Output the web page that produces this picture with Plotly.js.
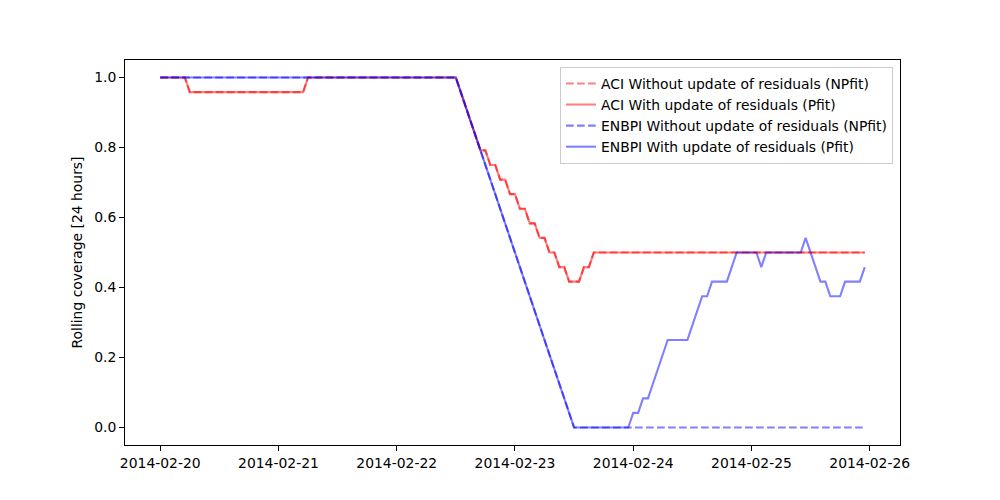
<!DOCTYPE html>
<html>
<head>
<meta charset="utf-8">
<script src="https://cdn.plot.ly/plotly-3.0.1.min.js"></script>
<style>html,body{margin:0;padding:0;background:#fff;}#chart{width:1000px;height:500px;}</style>
</head>
<body>
<div id="chart"></div>
<script>
// Hourly samples starting at this timestamp
const startTime = '2014-02-20T00:00:00Z';
const nHours = 144;

// ACI series (with and without update coincide)
const aciNPfit = [
1,1,1,1,1,1,
0.9583,0.9583,0.9583,0.9583,0.9583,0.9583,0.9583,0.9583,0.9583,0.9583,0.9583,0.9583,
0.9583,0.9583,0.9583,0.9583,0.9583,0.9583,0.9583,0.9583,0.9583,0.9583,0.9583,0.9583,
1,1,1,1,1,1,1,1,1,1,1,1,1,1,1,1,1,1,1,1,1,1,1,1,1,1,1,1,1,1,1,
0.9583,0.9167,0.875,0.8333,0.7917,0.7917,0.75,0.75,0.7083,0.7083,0.6667,0.6667,
0.625,0.625,0.5833,0.5833,0.5417,0.5417,0.5,0.5,0.4583,0.4583,0.4167,0.4167,0.4167,
0.4583,0.4583,
0.5,0.5,0.5,0.5,0.5,0.5,0.5,0.5,0.5,0.5,0.5,0.5,0.5,0.5,0.5,0.5,0.5,0.5,0.5,0.5,
0.5,0.5,0.5,0.5,0.5,0.5,0.5,0.5,0.5,0.5,0.5,0.5,0.5,0.5,0.5,0.5,0.5,0.5,0.5,0.5,
0.5,0.5,0.5,0.5,0.5,0.5,0.5,0.5,0.5,0.5,0.5,0.5,0.5,0.5,0.5,0.5
];
const aciPfit = aciNPfit.slice();

// ENBPI series
const enbpiNPfit = [
1,1,1,1,1,1,1,1,1,1,1,1,1,1,1,1,1,1,1,1,1,1,1,1,1,1,1,1,1,1,
1,1,1,1,1,1,1,1,1,1,1,1,1,1,1,1,1,1,1,1,1,1,1,1,1,1,1,1,1,1,1,
0.9583,0.9167,0.875,0.8333,0.7917,0.75,0.7083,0.6667,0.625,0.5833,0.5417,0.5,
0.4583,0.4167,0.375,0.3333,0.2917,0.25,0.2083,0.1667,0.125,0.0833,0.0417,0,
0,0,0,0,0,0,0,0,0,0,0,0,0,0,0,0,0,0,0,0,0,0,0,0,0,0,0,0,0,0,
0,0,0,0,0,0,0,0,0,0,0,0,0,0,0,0,0,0,0,0,0,0,0,0,0,0,0,0,0
];
const enbpiPfit = [
1,1,1,1,1,1,1,1,1,1,1,1,1,1,1,1,1,1,1,1,1,1,1,1,1,1,1,1,1,1,
1,1,1,1,1,1,1,1,1,1,1,1,1,1,1,1,1,1,1,1,1,1,1,1,1,1,1,1,1,1,1,
0.9583,0.9167,0.875,0.8333,0.7917,0.75,0.7083,0.6667,0.625,0.5833,0.5417,0.5,
0.4583,0.4167,0.375,0.3333,0.2917,0.25,0.2083,0.1667,0.125,0.0833,0.0417,0,
0,0,0,0,0,0,0,0,0,0,0,
0.0417,0.0417,0.0833,0.0833,0.125,0.1667,0.2083,0.25,0.25,0.25,0.25,0.25,
0.2917,0.3333,0.375,0.375,0.4167,0.4167,0.4167,0.4167,0.4583,0.5,0.5,0.5,0.5,0.5,
0.4583,0.5,0.5,0.5,0.5,0.5,0.5,0.5,0.5,0.5417,0.5,0.4583,0.4167,0.4167,
0.375,0.375,0.375,0.4167,0.4167,0.4167,0.4167,0.4583
];

const seriesNames = [
  'ACI Without update of residuals (NPfit)',
  'ACI With update of residuals (Pfit)',
  'ENBPI Without update of residuals (NPfit)',
  'ENBPI With update of residuals (Pfit)'
];

const t0 = Date.parse(startTime);
const times = [];
for (let i = 0; i < nHours; i++) {
  const d = new Date(t0 + i * 3600000);
  times.push(d.toISOString().slice(0, 19).replace('T', ' '));
}

const FONT = 'DejaVu Sans, sans-serif';
const FS = 13.9;
const RED = 'rgba(255,0,0,0.5)';
const BLUE = 'rgba(0,0,255,0.5)';
const DASH = '7.7px,3.3px';

const traces = [
  {x: times, y: aciNPfit, name: seriesNames[0], mode: 'lines', line: {color: RED, width: 2.08, dash: DASH}},
  {x: times, y: aciPfit, name: seriesNames[1], mode: 'lines', line: {color: RED, width: 2.08}},
  {x: times, y: enbpiNPfit, name: seriesNames[2], mode: 'lines', line: {color: BLUE, width: 2.08, dash: DASH}},
  {x: times, y: enbpiPfit, name: seriesNames[3], mode: 'lines', line: {color: BLUE, width: 2.08}}
];

const axisCommon = {
  showgrid: false, zeroline: false, showline: true, mirror: true,
  linecolor: '#000', linewidth: 1, ticks: 'outside', ticklen: 4.9, tickwidth: 1,
  tickcolor: '#000', tickfont: {family: FONT, size: FS, color: '#000'}
};

const layout = {
  width: 1000, height: 500,
  paper_bgcolor: '#fff', plot_bgcolor: '#fff',
  margin: {l: 125, r: 100, t: 60, b: 55},
  font: {family: FONT, size: FS, color: '#000'},
  showlegend: true,
  legend: {
    x: 0.991, y: 0.982, xanchor: 'right', yanchor: 'top',
    bgcolor: 'rgba(255,255,255,0.8)', bordercolor: '#cccccc', borderwidth: 1,
    font: {family: FONT, size: FS, color: '#000'},
    tracegroupgap: 0, itemwidth: 30
  },
  xaxis: Object.assign({}, axisCommon, {
    type: 'date',
    range: ['2014-02-19 16:51', '2014-02-26 06:09'],
    tick0: '2014-02-20', dtick: 86400000, tickformat: '%Y-%m-%d'
  }),
  yaxis: Object.assign({}, axisCommon, {
    range: [-0.05, 1.05], tick0: 0, dtick: 0.2, tickformat: '.1f',
    title: {text: 'Rolling coverage [24 hours]', font: {family: FONT, size: FS, color: '#000'}, standoff: 8}
  })
};

Plotly.newPlot('chart', traces, layout, {displayModeBar: false, staticPlot: true});
</script>
</body>
</html>
